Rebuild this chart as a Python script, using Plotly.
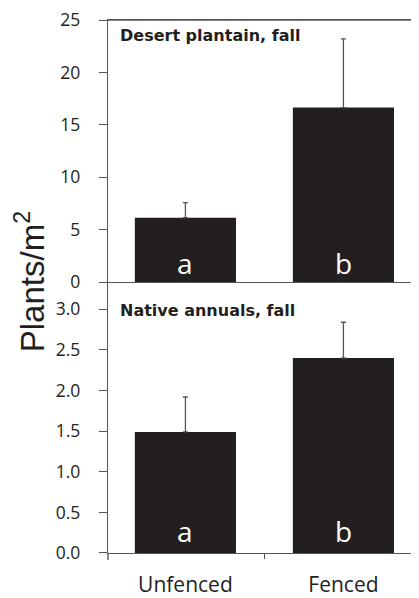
import plotly.graph_objects as go
from plotly.subplots import make_subplots

categories = ["Unfenced", "Fenced"]
plantain_mean = [6.15, 16.65]
plantain_err = [1.43, 6.55]
annual_mean = [1.49, 2.40]
annual_err = [0.43, 0.44]
letters = ["a", "b"]
panel_titles = ["Desert plantain, fall", "Native annuals, fall"]
plantain_ticks = [0, 5, 10, 15, 20, 25]
annual_ticks = [0.0, 0.5, 1.0, 1.5, 2.0, 2.5, 3.0]

BAR = "#231f20"
AX = "#555555"
FONT = "Open Sans"
TOP = 12
PLOT_H = 532.7

fig = make_subplots(rows=2, cols=1, shared_xaxes=False, vertical_spacing=0,
                    row_heights=[0.4918, 0.5082])

for row, (mean, err) in enumerate([(plantain_mean, plantain_err), (annual_mean, annual_err)], start=1):
    fig.add_trace(go.Bar(
        x=categories, y=mean, width=0.64, marker=dict(color=BAR, line=dict(width=0)),
        error_y=dict(type="data", array=err, arrayminus=[0] * len(err), symmetric=False,
                     color=AX, thickness=1.3, width=2.5),
        showlegend=False, hoverinfo="skip"), row=row, col=1)
    for c, l in zip(categories, letters):
        fig.add_annotation(x=c, y=0, text=l, showarrow=False, yanchor="bottom",
                           yshift=-2 if row == 1 else 1,
                           font=dict(family=FONT, size=28, color="white"),
                           xref=f"x{'' if row == 1 else row}", yref=f"y{'' if row == 1 else row}")

fig.update_xaxes(range=[-0.49, 1.529], showline=True, linecolor=AX, linewidth=1.3,
                 showgrid=False, zeroline=False, automargin=False)
fig.update_xaxes(row=1, col=1, showticklabels=False, ticks="", mirror=True)
fig.update_xaxes(row=2, col=1, ticks="outside", tickson="boundaries", ticklen=5,
                 tickcolor=AX, tickwidth=1.3,
                 tickfont=dict(family=FONT, size=21, color="#231f20"), ticklabelstandoff=13)

fig.update_yaxes(showline=True, linecolor=AX, linewidth=1.3, showgrid=False, zeroline=False,
                 ticks="outside", ticklen=8, tickcolor=AX, tickwidth=1.3,
                 tickfont=dict(family=FONT, size=17.5, color="#231f20"), ticklabelstandoff=15,
                 ticklabeloverflow="allow", automargin=False)
fig.update_yaxes(row=1, col=1, range=[0, 25], tickvals=plantain_ticks)
fig.update_yaxes(row=2, col=1, range=[0, 3.334], tickvals=annual_ticks, tickformat=".1f")

# top border of the upper panel
fig.add_shape(type="line", xref="x domain", yref="y domain", x0=0, x1=1, y0=1, y1=1,
              line=dict(color=AX, width=1.3))

fig.add_annotation(xref="x domain", yref="y domain", x=0.031, y=0.939, text=f"<b>{panel_titles[0]}</b>",
                   showarrow=False, xanchor="left", yanchor="middle",
                   font=dict(family="DejaVu Sans", size=16, color="#231f20"))
fig.add_annotation(xref="x2 domain", yref="y2 domain", x=0.031, y=0.8966, text=f"<b>{panel_titles[1]}</b>",
                   showarrow=False, xanchor="left", yanchor="middle",
                   font=dict(family="DejaVu Sans", size=16, color="#231f20"))

fig.add_annotation(xref="paper", yref="paper", x=-0.2445, y=0.508, xanchor="center", yanchor="middle",
                   text="Plants/m<sup>2</sup>", textangle=-90, showarrow=False,
                   font=dict(family="Liberation Sans", size=33, color="#231f20"))

# small extension of y axis below the lower x axis
fig.add_shape(type="line", xref="paper", yref="paper", x0=0, x1=0, y0=0, y1=-7 / PLOT_H,
              line=dict(color=AX, width=1.3))

fig.update_layout(width=419, height=598, margin=dict(l=100, r=0, t=TOP, b=598 - TOP - PLOT_H),
                  plot_bgcolor="white", paper_bgcolor="white")

fig.write_html("out.html")
